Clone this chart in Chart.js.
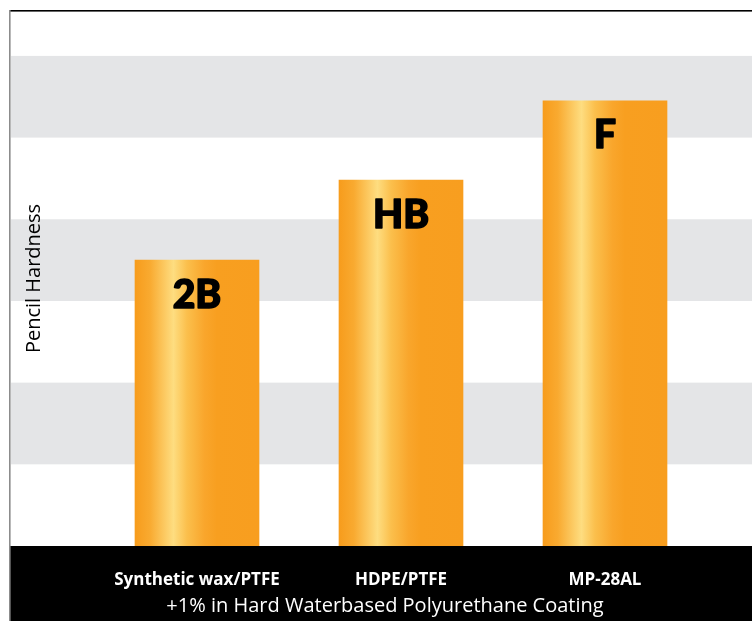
<!DOCTYPE html>
<html><head><meta charset="utf-8">
<style>html,body{margin:0;padding:0;background:#fff;overflow:hidden}#wrap{width:752px;height:621px}</style>
<script src="https://cdn.jsdelivr.net/npm/chart.js@4.4.0/dist/chart.umd.min.js"></script>
</head><body><div id="wrap"><canvas id="c" width="752" height="621"></canvas></div>
<script>
const categories = ['Synthetic wax/PTFE', 'HDPE/PTFE', 'MP-28AL'];
const hardnessValues = [3.5, 4.48, 5.45];
const hardnessGrades = ['2B', 'HB', 'F'];
const yTicks = [0, 1, 2, 3, 4, 5, 6];
const yMax = 6.55;
const xAxisTitle = '+1% in Hard Waterbased Polyurethane Coating';
const yAxisTitle = 'Pencil Hardness';

const BAR_W = 124;

function barGradient(ctx) {
  const chart = ctx.chart;
  const xs = chart.scales && chart.scales.x;
  if (!chart.chartArea || !xs || ctx.dataIndex === undefined) return '#f79f1f';
  const cx = xs.getPixelForValue(ctx.dataIndex);
  const l = cx - BAR_W / 2;
  const g = chart.ctx.createLinearGradient(l, 0, l + BAR_W, 0);
  g.addColorStop(0, '#f79c1c');
  g.addColorStop(0.12, '#f9aa30');
  g.addColorStop(0.31, '#fedd80');
  g.addColorStop(0.42, '#fbbf4c');
  g.addColorStop(0.56, '#f9a62c');
  g.addColorStop(0.66, '#f89f20');
  g.addColorStop(1, '#f89e1f');
  return g;
}

const backdrop = {
  id: 'backdrop',
  beforeDraw(chart) {
    const c = chart.ctx, W = chart.width, H = chart.height;
    const ys = chart.scales.y, xs = chart.scales.x;
    c.save();
    c.fillStyle = '#fff';
    c.fillRect(0, 0, W, H);
    c.fillStyle = '#e4e5e7';
    for (let i = 0; i < yTicks.length - 1; i++) {
      if (yTicks[i] % 2 === 1) {
        const y1 = ys.getPixelForValue(yTicks[i + 1]);
        const y0 = ys.getPixelForValue(yTicks[i]);
        c.fillRect(11, y1, W - 11, y0 - y1);
      }
    }
    c.fillStyle = '#000';
    c.fillRect(10, xs.top, W - 10, H - xs.top);
    c.fillRect(9, chart.chartArea.top - 1, W - 9, 1.6);
    c.fillStyle = '#8c8c8c';
    c.fillRect(9, chart.chartArea.top - 1, 1.6, H);
    c.restore();
  },
  afterDatasetsDraw(chart) {
    const c = chart.ctx;
    const meta = chart.getDatasetMeta(0);
    c.save();
    c.fillStyle = '#000';
    c.strokeStyle = '#000';
    c.lineWidth = 1.6;
    c.lineJoin = 'round';
    c.font = '900 39px Lato, "DejaVu Sans", sans-serif';
    c.textAlign = 'center';
    c.textBaseline = 'middle';
    meta.data.forEach((bar, i) => {
      c.fillText(hardnessGrades[i], bar.x, bar.y + 35);
      c.strokeText(hardnessGrades[i], bar.x, bar.y + 35);
    });
    c.restore();
  }
};

new Chart(document.getElementById('c'), {
  type: 'bar',
  data: {
    labels: categories,
    datasets: [{
      data: hardnessValues,
      backgroundColor: barGradient,
      borderWidth: 0,
      barThickness: BAR_W
    }]
  },
  options: {
    responsive: false,
    animation: false,
    devicePixelRatio: 1,
    layout: { padding: { left: 18, top: 11, right: 0, bottom: 0 } },
    plugins: {
      legend: { display: false },
      tooltip: { enabled: false },
      title: {
        display: true,
        position: 'bottom',
        text: xAxisTitle,
        color: '#fff',
        font: { family: '"Open Sans", sans-serif', size: 20, weight: 'normal' },
        padding: { top: 4, bottom: 3 }
      }
    },
    scales: {
      x: {
        grid: { display: false },
        border: { display: false },
        ticks: {
          color: '#fff',
          padding: 16,
          font: { family: '"Open Sans", sans-serif', size: 17, weight: '700' }
        },
        afterFit(s) { s.height = 44; }
      },
      y: {
        min: 0,
        max: yMax,
        grid: { display: false },
        border: { display: false },
        ticks: { display: false, stepSize: 1 },
        title: {
          display: true,
          text: yAxisTitle,
          color: '#000',
          font: { family: '"Open Sans", sans-serif', size: 20, weight: 'normal' },
          padding: { top: 4, bottom: 0 }
        },
        afterFit(s) { s.width = 77; }
      },
      yR: {
        position: 'right',
        display: true,
        grid: { display: false },
        border: { display: false },
        ticks: { display: false },
        afterFit(s) { s.width = 45; }
      }
    }
  },
  plugins: [backdrop]
});
</script></body></html>
